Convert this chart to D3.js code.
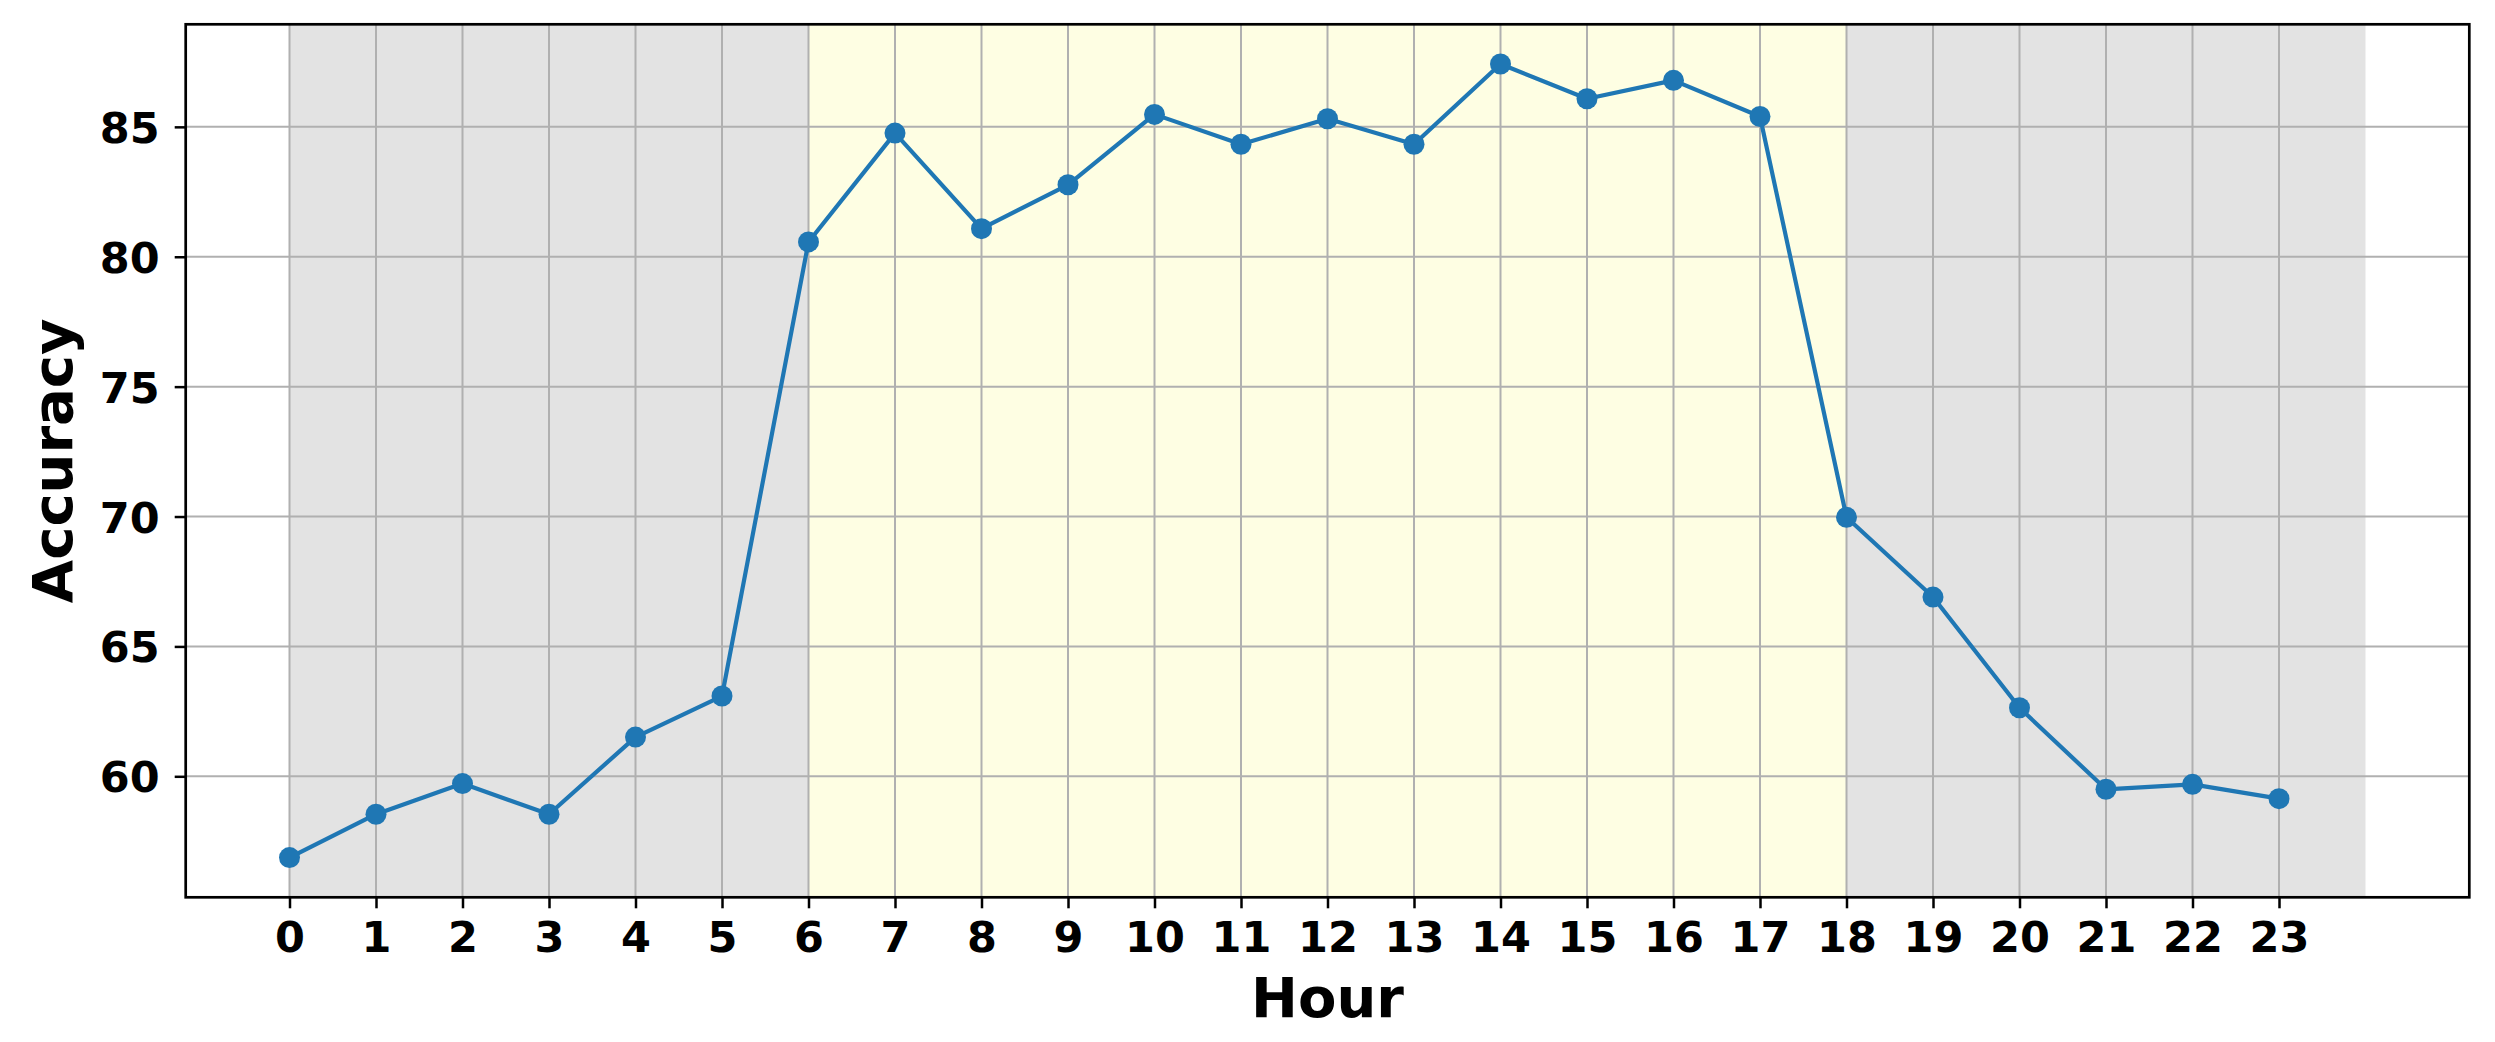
<!DOCTYPE html>
<html>
<head>
<meta charset="utf-8">
<script src="https://cdn.jsdelivr.net/npm/d3@7"></script>
<style>
  html, body { margin: 0; padding: 0; background: #ffffff; }
  svg { display: block; }
  text { font-family: "DejaVu Sans", sans-serif; font-weight: bold; fill: #000; }
</style>
</head>
<body>
<div id="chart"></div>
<script>
// ---- data ----
const hours = [0,1,2,3,4,5,6,7,8,9,10,11,12,13,14,15,16,17,18,19,20,21,22,23];
const accuracy = [56.87, 58.54, 59.72, 58.54, 61.51, 63.09, 80.57, 84.76, 81.08, 82.77, 85.48, 84.33,
                  85.31, 84.33, 87.42, 86.08, 86.79, 85.40, 69.97, 66.90, 62.64, 59.50, 59.69, 59.14];
const periodStart = [0, 6, 18];
const periodEnd = [6, 18, 24];
const periodName = ["night", "day", "night"];
const yTicks = [60, 65, 70, 75, 80, 85];
const xLabel = "Hour";
const yLabel = "Accuracy";

// ---- layout & style ----
const W = 2495, H = 1042;
const plot = { left: 185.7, right: 2469.3, top: 24.3, bottom: 897.3 };
const periodColor = { night: "#e3e3e3", day: "#fefee3" };
const lineColor = "#1f77b4";

const svg = d3.select("#chart").append("svg").attr("width", W).attr("height", H);

// matplotlib-like 5% margins
const xMin = d3.min([d3.min(hours), d3.min(periodStart)]);
const xMax = d3.max([d3.max(hours), d3.max(periodEnd)]);
const xPad = (xMax - xMin) * 0.05;
const yMin = d3.min(accuracy), yMax = d3.max(accuracy);
const yPad = (yMax - yMin) * 0.05;

const x = d3.scaleLinear().domain([xMin - xPad, xMax + xPad]).range([plot.left, plot.right]);
const y = d3.scaleLinear().domain([yMin - yPad, yMax + yPad]).range([plot.bottom, plot.top]);

const g = svg.append("g");

// spans
g.selectAll("rect.span").data(periodStart.map((s, i) => ({ s, e: periodEnd[i], n: periodName[i] })))
  .enter().append("rect").attr("class", "span")
  .attr("x", d => x(d.s)).attr("width", d => x(d.e) - x(d.s))
  .attr("y", plot.top).attr("height", plot.bottom - plot.top)
  .attr("fill", d => periodColor[d.n]);

// grid
g.selectAll("line.vg").data(hours).enter().append("line").attr("class", "vg")
  .attr("x1", d => x(d)).attr("x2", d => x(d))
  .attr("y1", plot.top).attr("y2", plot.bottom)
  .attr("stroke", "#b0b0b0").attr("stroke-width", 2);
g.selectAll("line.hg").data(yTicks).enter().append("line").attr("class", "hg")
  .attr("x1", plot.left).attr("x2", plot.right)
  .attr("y1", d => y(d)).attr("y2", d => y(d))
  .attr("stroke", "#b0b0b0").attr("stroke-width", 2);

// line
const pts = hours.map((h, i) => [h, accuracy[i]]);
g.append("path").datum(pts)
  .attr("fill", "none").attr("stroke", lineColor).attr("stroke-width", 4.2)
  .attr("stroke-linejoin", "round")
  .attr("d", d3.line().x(d => x(d[0])).y(d => y(d[1])));
g.selectAll("circle.pt").data(pts).enter().append("circle").attr("class", "pt")
  .attr("cx", d => x(d[0])).attr("cy", d => y(d[1])).attr("r", 10.5)
  .attr("fill", lineColor);

// axes
const xAxis = d3.axisBottom(x).tickValues(hours).tickFormat(d3.format("d")).tickSize(11).tickPadding(13);
const yAxis = d3.axisLeft(y).tickValues(yTicks).tickFormat(d3.format("d")).tickSize(11).tickPadding(15);

const gx = svg.append("g").attr("transform", `translate(0,${plot.bottom})`).call(xAxis);
const gy = svg.append("g").attr("transform", `translate(${plot.left},0)`).call(yAxis);
[gx, gy].forEach(a => {
  a.select(".domain").remove();
  a.selectAll(".tick line").attr("stroke", "#000").attr("stroke-width", 2.5);
  a.selectAll(".tick text").style("font-size", "43px").style("font-family", "DejaVu Sans").style("font-weight", "bold").attr("fill", "#000");
});
gy.selectAll(".tick text").attr("dy", "0.36em");

// frame
svg.append("rect").attr("x", plot.left).attr("y", plot.top)
  .attr("width", plot.right - plot.left).attr("height", plot.bottom - plot.top)
  .attr("fill", "none").attr("stroke", "#000").attr("stroke-width", 2.7);

// labels
svg.append("text").attr("x", (plot.left + plot.right) / 2).attr("y", 1017)
  .attr("text-anchor", "middle").style("font-size", "56px").text(xLabel);
svg.append("text")
  .attr("transform", `translate(72,${(plot.top + plot.bottom) / 2}) rotate(-90)`)
  .attr("text-anchor", "middle").style("font-size", "56px").text(yLabel);
</script>
</body>
</html>
